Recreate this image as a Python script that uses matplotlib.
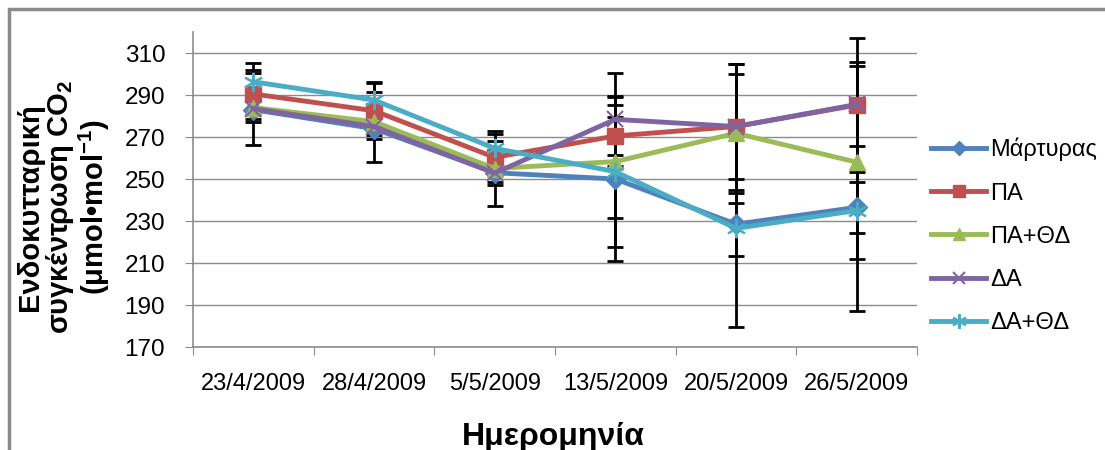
import numpy as np
import matplotlib.pyplot as plt
from matplotlib.patches import Rectangle

plt.rcParams['font.family'] = ['Liberation Sans', 'DejaVu Sans']
plt.rcParams['mathtext.fontset'] = 'custom'
plt.rcParams['mathtext.rm'] = 'Liberation Sans'
plt.rcParams['mathtext.bf'] = 'Liberation Sans:bold'

# Ημερομηνίες μέτρησης
dates = ['23/4/2009', '28/4/2009', '5/5/2009', '13/5/2009', '20/5/2009', '26/5/2009']

# Μέσες τιμές ανά μεταχείριση
martyras = [283, 274, 253, 250, 228.5, 236.5]
pa = [290.5, 282.5, 260.3, 270.5, 275, 285.2]
pa_thd = [284, 277.3, 255, 258.3, 271.8, 258]
da = [283.5, 275, 252.8, 278.4, 275, 285.5]
da_thd = [296.3, 287.6, 264.6, 253.5, 226.5, 235]

# Τυπικά σφάλματα
err_martyras = [6, 5, 6, 39, 15, 12]
err_pa = [10, 9, 8, 9, 30, 32]
err_pa_thd = [18, 19, 18, 27, 33, 46]
err_da = [5, 4, 4, 22, 25, 20]
err_da_thd = [9, 8, 7, 36, 47, 48]

labels = ['Μάρτυρας', 'ΠΑ', 'ΠΑ+ΘΔ', 'ΔΑ', 'ΔΑ+ΘΔ']
series = [martyras, pa, pa_thd, da, da_thd]
errors = [err_martyras, err_pa, err_pa_thd, err_da, err_da_thd]
colors = ['#4F81BD', '#C0504D', '#9BBB59', '#8064A2', '#4BACC6']
markers = ['D', 's', '^', 'x', (6, 2, 0)]
msizes = [10, 12, 12, 12, 14]

fig = plt.figure(figsize=(11.05, 4.5), dpi=100)
ax = fig.add_axes([193 / 1105, 1 - 347 / 450, 724 / 1105, 315 / 450])

x = np.arange(1, len(dates) + 1)

# πρώτα οι μπάρες σφάλματος, μετά οι γραμμές από πάνω
for vals, err in zip(series, errors):
    ax.errorbar(x, vals, yerr=err, fmt='none', ecolor='black', elinewidth=2,
                capsize=6, capthick=2, zorder=2)

for vals, lab, c, m, ms in zip(series, labels, colors, markers, msizes):
    mew = 1.5 if m == 'x' or isinstance(m, tuple) else 1
    ax.plot(x, vals, color=c, lw=3.5, marker=m, markersize=ms,
            markeredgewidth=mew, label=lab, zorder=3)

ax.set_xlim(0.5, len(dates) + 0.5)
ax.set_ylim(170, 320)
ax.set_yticks(np.arange(170, 311, 20))
ax.yaxis.grid(True, color='#8C8C8C', lw=1)
ax.set_axisbelow(True)

ax.set_xticks(np.arange(0.5, len(dates) + 1, 1))
ax.set_xticklabels([])
ax.set_xticks(x, minor=True)
ax.set_xticklabels(dates, minor=True, fontsize=17)
ax.tick_params(axis='x', which='minor', length=0, pad=19)
ax.tick_params(axis='x', which='major', length=6, color='#8C8C8C')
ax.tick_params(axis='y', length=6, color='#8C8C8C', labelsize=17.5, pad=14)

for s in ['top', 'right']:
    ax.spines[s].set_visible(False)
for s in ['left', 'bottom']:
    ax.spines[s].set_color('#8C8C8C')
    ax.spines[s].set_linewidth(1.2)

fig.text(64 / 1105, 1 - 207 / 450,
         'Ενδοκυτταρική\nσυγκέντρωση CO$_\\mathregular{2}$\n(μmol•mol$^{\\mathregular{-1}}$)',
         rotation=90, ha='center', va='center', multialignment='center',
         fontsize=21, fontweight='bold', linespacing=1.0)
fig.text(553 / 1105, 1 - 437 / 450, 'Ημερομηνία', ha='center', va='center',
         fontsize=23, fontweight='bold')

fig.legend(loc='center left', bbox_to_anchor=(922 / 1105, 1 - 236 / 450),
           frameon=False, fontsize=17, handlelength=2.3, handletextpad=0.2,
           labelspacing=0.9, borderaxespad=0, markerscale=0.75)

# πλαίσιο γραφήματος
fig.add_artist(Rectangle((9 / 1105, -0.1), 1.2, 1 - 9 / 450 + 0.1,
                         transform=fig.transFigure, fill=False,
                         edgecolor='#8A8A8A', lw=2.5))

fig.savefig('out.png', dpi=100)
